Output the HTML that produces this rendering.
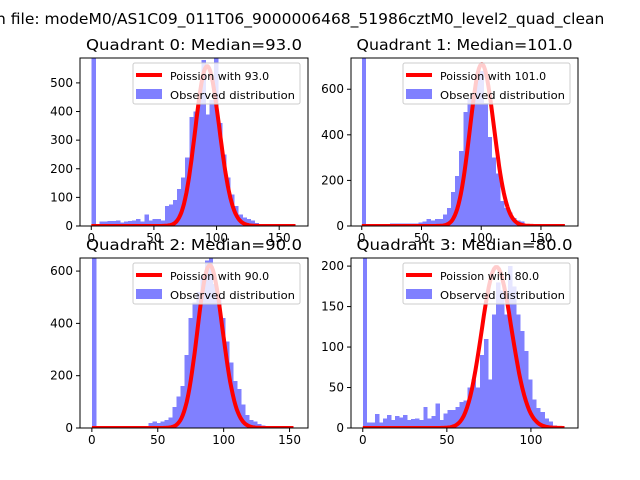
<!DOCTYPE html>
<html><head><meta charset="utf-8"><style>body{margin:0;background:#fff}svg{display:block;font-family:"DejaVu Sans","Liberation Sans",sans-serif}</style></head>
<body>
<svg id="c" width="640" height="480">
<text x="-4" y="24" font-size="15.5">n file: modeM0/AS1C09_011T06_9000006468_51986cztM0_level2_quad_clean</text>
</svg>
<script>
const medians=[93,101,90,80];
const binMax=[163,170,153,120];
const q0Counts=[600,5,15,15,18,18,20,12,15,18,20,25,15,40,20,25,25,20,70,75,90,130,170,240,380,400,450,580,390,440,590,360,250,170,110,70,40,30,25,20,10,3,3,2,2,0,0,0,0,0];
const q1Counts=[740,5,5,5,5,5,5,10,10,10,10,10,10,10,15,20,30,25,30,30,50,80,150,220,330,500,560,580,640,680,540,390,300,230,110,80,60,35,25,20,5,3,3,2,2,0,0,0,0,0];
const q2Counts=[650,0,0,0,5,0,5,0,0,5,0,0,5,0,20,25,20,25,30,40,80,120,160,280,420,480,520,580,640,650,550,500,420,330,250,180,150,90,50,30,25,15,10,5,5,3,2,0,0,0];
const q3Counts=[210,7,7,17,7,12,16,10,15,13,16,10,11,12,10,26,12,15,30,10,18,22,22,26,32,34,50,60,50,90,110,60,140,180,170,140,200,175,140,120,95,60,35,25,20,12,8,3,0,0];
const curveScale=[13500,17900,14800,4460];
const yMax=[587,737,650,210];
const xTicks=[[0,50,100,150],[0,50,100,150],[0,50,100,150],[0,50,100]];
const yTicks=[[0,100,200,300,400,500],[0,200,400,600],[0,200,400,600],[0,50,100,150,200]];
const xDomainMax=[173,181,164,128];
const xDomainMin=[-9,-9,-9,-7];
const boxes=[[80,58,308,226],[351,58,578,226],[80,258,308,428],[351,258,578,428]];
const svg=document.getElementById('c');const NS='http://www.w3.org/2000/svg';
function mk(t,a,p){const e=document.createElementNS(NS,t);for(const k in a)e.setAttribute(k,a[k]);(p||svg).appendChild(e);return e;}
function lgam(z){return z*Math.log(z)-z-0.5*Math.log(z/(2*Math.PI))+1/(12*z);}
const allCounts=[q0Counts,q1Counts,q2Counts,q3Counts];
for(let q=0;q<4;q++){
 const [L,T,R,B]=boxes[q];
 const xs=v=>L+(v-xDomainMin[q])/(xDomainMax[q]-xDomainMin[q])*(R-L);
 const ys=v=>B-v/yMax[q]*(B-T);
 const g=mk('g',{});
 
 
 const cp=mk('clipPath',{id:'cp'+q},g);mk('rect',{x:L,y:T,width:R-L,height:B-T},cp);
 const plot=mk('g',{'clip-path':'url(#cp'+q+')'},g);
 const counts=allCounts[q];const w=binMax[q]/counts.length;
 counts.forEach((c,i)=>{if(c<=0)return;const r=mk('rect',{x:xs(i*w),y:ys(c),width:xs((i+1)*w)-xs(i*w)+0.4,height:B-ys(c),fill:'#8080ff','shape-rendering':'crispEdges'},plot);
  
  });
 let d='';const mu=medians[q];
 for(let k=0;k<=binMax[q];k++){const lp=k*Math.log(mu)-mu-(k<1?0:lgam(k+1));d+=(k?'L':'M')+xs(k).toFixed(1)+','+ys(curveScale[q]*Math.exp(lp)).toFixed(1);}
 const ln=mk('path',{d:d,fill:'none',stroke:'#ff0000','stroke-width':4,'stroke-linejoin':'round'},plot);
 
 
 mk('rect',{x:L,y:T,width:R-L,height:B-T,fill:'none',stroke:'#000','stroke-width':1},g);
 xTicks[q].forEach(t=>{const x=xs(t);mk('line',{x1:x,x2:x,y1:B,y2:B+4,stroke:'#000'},g);const tx=mk('text',{x:x,y:B+16,'font-size':12,'text-anchor':'middle'},g);tx.textContent=t;
  
  });
 yTicks[q].forEach(t=>{const y=ys(t);mk('line',{x1:L-4,x2:L,y1:y,y2:y,stroke:'#000'},g);const tx=mk('text',{x:L-7,y:y+4,'font-size':12,'text-anchor':'end'},g);tx.textContent=t;
  
  });
 const ti=mk('text',{x:(L+R)/2,y:T-8,'font-size':15.5,'text-anchor':'middle',textLength:216,lengthAdjust:'spacingAndGlyphs'},g);ti.textContent='Quadrant '+q+': Median='+mu.toFixed(1);
 
 
 const lg=mk('g',{},g);
 
 
 mk('rect',{x:R-175,y:T+5,width:167,height:41,rx:2,fill:'#fff','fill-opacity':0.8,stroke:'#ccc'},lg);
 mk('line',{x1:R-172,x2:R-146,y1:T+17,y2:T+17,stroke:'#ff0000','stroke-width':4},lg);
 mk('rect',{x:R-172,y:T+31,width:26,height:10,fill:'#8080ff'},lg);
 const t1=mk('text',{x:R-138,y:T+22,'font-size':11},lg);t1.textContent='Poission with '+mu.toFixed(1);
 const t2=mk('text',{x:R-138,y:T+41,'font-size':11,textLength:125,lengthAdjust:'spacingAndGlyphs'},lg);t2.textContent='Observed distribution';
}
</script>
</body></html>
